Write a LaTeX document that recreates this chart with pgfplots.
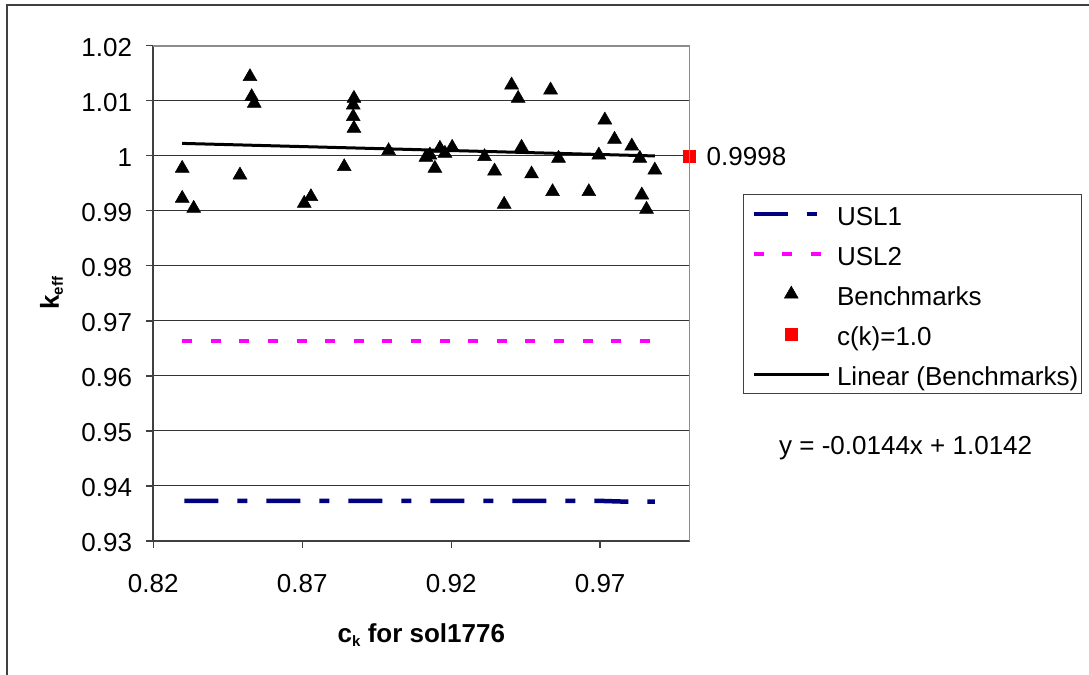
\documentclass[border=0pt]{standalone}
\usepackage{pgfplots}
\pgfplotsset{compat=1.18}
\usepackage{fontspec}
\setmainfont{Liberation Sans}
\definecolor{usla}{RGB}{0,0,128}
\definecolor{uslb}{RGB}{255,0,255}
\definecolor{ckred}{RGB}{255,0,0}
\definecolor{framegray}{RGB}{64,64,64}
\definecolor{bordergray}{RGB}{140,140,140}
\newcommand{\cf}{\fontsize{26bp}{30bp}\selectfont}
\pgfplotsset{
  lineleg/.style={legend image code/.code={\path[draw=none] (-9bp,0bp) -- (0bp,0bp); \draw[##1] (0bp,0bp) -- (75bp,0bp);}},
  markleg/.style={legend image code/.code={\path[draw=none] (-9bp,0bp) -- (75bp,0bp); \draw[##1] plot coordinates {(37.5bp,0bp)};}},
}
\begin{document}
\begin{tikzpicture}
\useasboundingbox (0bp,0bp) rectangle (1089bp,-675bp);
\draw[framegray, line width=1.8bp] (7bp,-675bp) -- (7bp,-5bp) -- (1089bp,-5bp);
\begin{axis}[
  at={(153.3bp,-541bp)}, anchor=south west,
  scale only axis, width=536.2bp, height=495.3bp,
  xmin=0.82, xmax=1.0, ymin=0.93, ymax=1.02,
  axis x line*=bottom, axis y line*=left,
  clip=false,
  xtick={0.82,0.87,0.92,0.97},
  ytick={0.93,0.94,0.95,0.96,0.97,0.98,0.99,1.00,1.01,1.02},
  ymajorgrids, major grid style={black!80, line width=1bp},
  axis line style={framegray, line width=1.8bp},
  tick style={framegray, line width=1.3bp},
  tick align=outside, major tick length=7bp,
  /pgf/number format/assume math mode=true,
  xticklabel style={/pgf/number format/.cd, fixed, fixed zerofill, precision=2, /tikz/.cd, font=\cf, anchor=north, inner sep=0pt, yshift=-26bp},
  yticklabel style={/pgf/number format/.cd, fixed, precision=2, /tikz/.cd, font=\cf, anchor=east, inner sep=0pt, xshift=-14bp, yshift=-2bp},
  xlabel={\textbf{c}\raisebox{-4bp}{\fontsize{15bp}{15bp}\selectfont\bfseries k}\textbf{ for sol1776}},
  xlabel style={at={(axis description cs:0.5,-0.19)}, anchor=center, font=\cf},
  ylabel={\textbf{k}\raisebox{-4bp}{\fontsize{15bp}{15bp}\selectfont\bfseries eff}},
  ylabel style={at={(axis description cs:-0.19,0.5)}, anchor=center, font=\cf},
  legend style={at={(1.1,0.7006)}, anchor=north west, draw=black!75, line width=1.3bp, fill=white,
     inner xsep=1bp, inner ysep=5.5bp, row sep=12bp, column sep=4bp, font=\cf,
     nodes={inner sep=2bp, text height=23bp, text depth=1bp}},
  legend cell align=left,
  after end axis/.code={\draw[bordergray, line width=1.8bp] (rel axis cs:0,1) -- (rel axis cs:1,1) -- (rel axis cs:1,0);},
]
% USL1
\addplot[usla, line width=4.5bp, dash pattern=on 34bp off 19bp on 10bp off 19bp, lineleg]
  coordinates {(0.8304,0.9373) (0.9696,0.9373) (0.9785,0.93715) (0.9884,0.93715)};
\addlegendentry{USL1}
% USL2
\addplot[uslb, line width=4.5bp, dash pattern=on 10bp off 18.6bp, lineleg]
  coordinates {(0.8297,0.96634) (0.98836,0.96634)};
\addlegendentry{USL2}
% Benchmarks
\addplot[only marks, mark=triangle*, mark size=8bp, mark options={black, fill=black, line width=0.5bp}, markleg]
  table {
x y
0.8297 0.99772
0.8297 0.99227
0.83356 0.99045
0.84909 0.99650
0.85245 1.01437
0.85302 1.01073
0.85389 1.00953
0.87067 0.99136
0.87292 0.99256
0.88409 0.99801
0.88735 1.01044
0.88711 1.00922
0.88711 1.00710
0.88735 1.00499
0.89899 1.00092
0.91151 0.99972
0.91285 1.00014
0.91621 1.00136
0.91789 1.00045
0.91453 0.99772
0.92033 1.00154
0.93119 0.99983
0.93456 0.99723
0.93778 0.99118
0.94027 1.01286
0.94248 1.01044
0.94362 1.00154
0.94698 0.99669
0.95336 1.01195
0.95403 0.99347
0.95604 0.99954
0.96621 0.99347
0.96956 1.00014
0.97158 1.00650
0.97483 1.00299
0.98064 1.00177
0.98332 0.99954
0.98399 0.99287
0.98557 0.99027
0.98836 0.99741
};
\addlegendentry{Benchmarks}
% c(k)=1.0
\addplot[only marks, mark=square*, mark size=6bp, mark options={ckred, fill=ckred, line width=0bp}, markleg]
  coordinates {(1.0,0.9998)};
\addlegendentry{c(k)=1.0}
% Linear trend
\addplot[black, line width=3bp, lineleg]
  coordinates {(0.8297,1.00225) (0.98836,0.99997)};
\addlegendentry{Linear (Benchmarks)}
\node[anchor=west, inner sep=0pt, font=\cf, xshift=17bp] at (axis cs:1.0,0.9998) {0.9998};
\end{axis}
\node[anchor=west, inner sep=0pt, font=\cf] at (779bp,-448bp) {y = -0.0144x + 1.0142};
\end{tikzpicture}
\end{document}
